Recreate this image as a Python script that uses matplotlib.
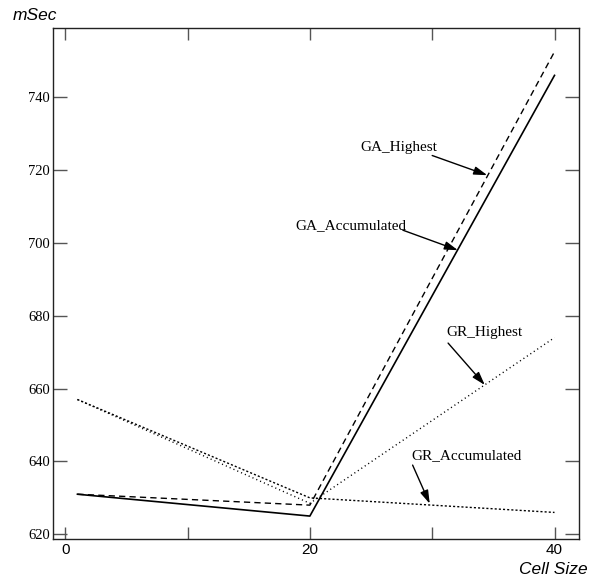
import matplotlib
matplotlib.use("Agg")
import matplotlib.pyplot as plt

# values
cell_size = [1, 20, 40]
ga_accumulated = [631, 625, 746]
ga_highest = [631, 628, 752.5]
gr_accumulated = [657, 630, 626]
gr_highest = [657, 628.5, 674]

x_ticks = [0, 10, 20, 30, 40]
x_labels = ["0", "", "20", "", "40"]
y_ticks = [620, 640, 660, 680, 700, 720, 740]


def main():
    fig = plt.figure(figsize=(6.09, 5.85), dpi=100)
    ax = fig.add_axes([0.087, 0.0786, 0.8637, 0.8735])

    ax.plot(cell_size, ga_accumulated, color="black", lw=1.2)
    ax.plot(cell_size, ga_highest, color="black", lw=1.0, dashes=(4.5, 3))
    ax.plot(cell_size, gr_accumulated, color="black", lw=1.0, dashes=(1.5, 1.5))
    ax.plot(cell_size, gr_highest, color="black", lw=1.0, dashes=(0.8, 2.2))

    ax.set_xlim(-1, 42)
    ax.set_ylim(618.7, 759)

    ax.set_xticks(x_ticks)
    ax.set_xticklabels(x_labels, family="Liberation Sans", fontsize=11)
    ax.set_yticks(y_ticks)
    ax.set_yticklabels([str(v) for v in y_ticks], family="Liberation Serif", fontsize=10.5)
    ax.tick_params(axis="x", direction="in", length=8.6, width=1, color="#555555",
                   top=True, pad=3)
    ax.tick_params(axis="y", direction="in", length=10, width=1, color="#555555",
                   right=True, pad=2)
    for s in ax.spines.values():
        s.set_color("#222222")
        s.set_linewidth(1.0)

    # axis titles sit outside the corners
    fig.text(13 / 609, 1 - 15 / 585, "mSec", family="Liberation Sans", style="italic",
             fontsize=12.5, ha="left", va="center")
    fig.text(588 / 609, 1 - 570 / 585, "Cell Size", family="Liberation Sans",
             style="italic", fontsize=12.5, ha="right", va="center")

    # labels with arrows
    notes = [
        ("GA_Highest", (24.1, 726.3), (30.0, 724.0), (34.5, 718.6)),
        ("GA_Accumulated", (18.8, 704.8), (27.6, 703.5), (32.1, 698.0)),
        ("GR_Highest", (31.2, 675.5), (31.3, 672.5), (34.3, 661.0)),
        ("GR_Accumulated", (28.3, 641.5), (28.4, 639.0), (29.8, 628.4)),
    ]
    for text, pos, tail, head in notes:
        ax.text(pos[0], pos[1], text, family="Liberation Serif", fontsize=11,
                ha="left", va="center")
        ax.annotate("", xy=head, xytext=tail,
                    arrowprops=dict(arrowstyle="-|>,head_length=0.8,head_width=0.25",
                                    color="black", lw=1.0, shrinkA=0, shrinkB=0))

    fig.savefig("out.png", dpi=100)


if __name__ == "__main__":
    main()
